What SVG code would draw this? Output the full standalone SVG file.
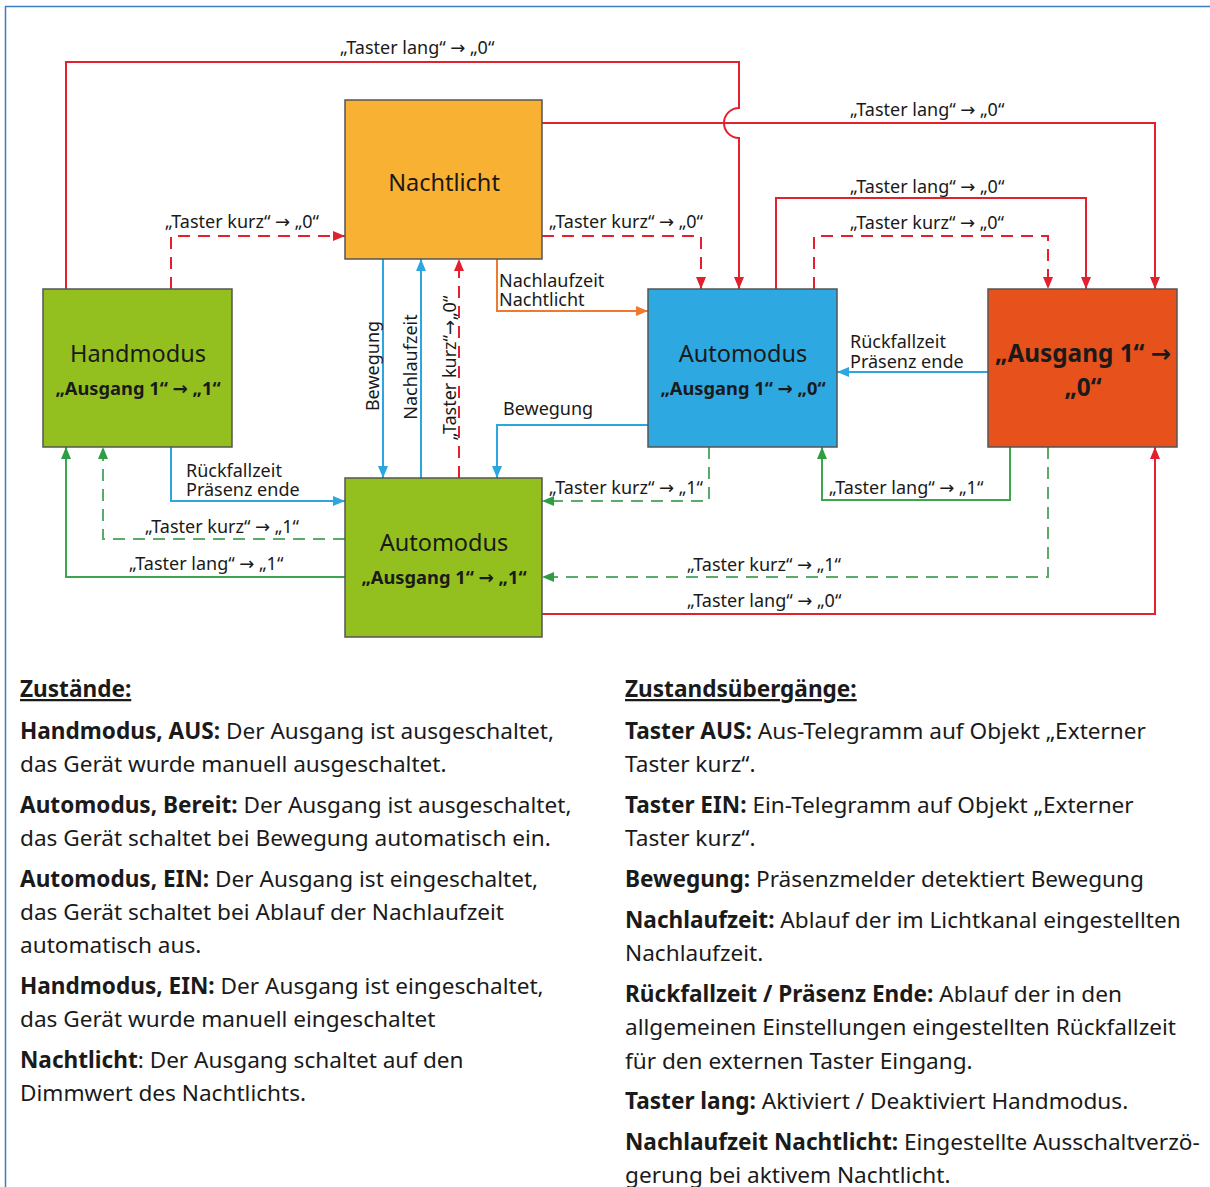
<svg xmlns="http://www.w3.org/2000/svg" width="1210" height="1187" viewBox="0 0 1210 1187">
<style>
.node{stroke:#555;stroke-width:1.5}
.t{font-family:"Noto Sans","DejaVu Sans",sans-serif;fill:#1a1a1a}
.lbl{font-size:18px}
.nt{font-size:23.5px;text-anchor:middle}
.nb{font-size:18.3px;font-weight:bold;text-anchor:middle}
.body{font-size:22.6px;white-space:pre}
.b{font-weight:bold}
.c{fill:none;stroke-width:2}
.red{stroke:#E3202E}
.blue{stroke:#2BA6DF}
.grn{stroke:#3DA54F}
.gd{stroke:#5BAA6A}
.org{stroke:#EE7A31}
.dash{stroke-dasharray:12 8}
</style>
<defs>
<marker id="aR" viewBox="0 0 12 10" refX="12" refY="5" markerWidth="12" markerHeight="10" markerUnits="userSpaceOnUse" orient="auto"><path d="M0,0 L12,5 L0,10 z" fill="#E3202E"/></marker>
<marker id="aB" viewBox="0 0 12 10" refX="12" refY="5" markerWidth="12" markerHeight="10" markerUnits="userSpaceOnUse" orient="auto"><path d="M0,0 L12,5 L0,10 z" fill="#2BA6DF"/></marker>
<marker id="aG" viewBox="0 0 12 10" refX="12" refY="5" markerWidth="12" markerHeight="10" markerUnits="userSpaceOnUse" orient="auto"><path d="M0,0 L12,5 L0,10 z" fill="#2E9E45"/></marker>
<marker id="aO" viewBox="0 0 12 10" refX="12" refY="5" markerWidth="12" markerHeight="10" markerUnits="userSpaceOnUse" orient="auto"><path d="M0,0 L12,5 L0,10 z" fill="#EE7A31"/></marker>
</defs>
<rect x="0" y="0" width="1210" height="1187" fill="#fff"/>
<rect x="5.5" y="6.5" width="1230" height="1220" fill="none" stroke="#3B7DBF" stroke-width="1.5"/>

<g id="connectors">
<path class="c red" d="M66,289 V62 H739 V108 A15,15 0 0 0 739,138 V289" marker-end="url(#aR)"/>
<path class="c red" d="M542,123 H1155 V289" marker-end="url(#aR)"/>
<path class="c red" d="M776,289 V198 H1086 V289" marker-end="url(#aR)"/>
<path class="c red dash" d="M814,289 V236 H1048 V289" marker-end="url(#aR)"/>
<path class="c red dash" d="M171,289 V236 H345" marker-end="url(#aR)"/>
<path class="c red dash" d="M542,236 H701 V289" marker-end="url(#aR)"/>
<path class="c blue" d="M383,259 V478" marker-end="url(#aB)"/>
<path class="c blue" d="M421,478 V259" marker-end="url(#aB)"/>
<path class="c red dash" d="M459,478 V259" marker-end="url(#aR)"/>
<path class="c org" d="M497,259 V311 H648" marker-end="url(#aO)"/>
<path class="c blue" d="M648,425 H497 V478" marker-end="url(#aB)"/>
<path class="c blue" d="M988,372 H837" marker-end="url(#aB)"/>
<path class="c blue" d="M171,447 V501 H345" marker-end="url(#aB)"/>
<path class="c gd dash" d="M709,447 V501 H542" marker-end="url(#aG)"/>
<path class="c grn" d="M1010,447 V500 H822 V447" marker-end="url(#aG)"/>
<path class="c gd dash" d="M1048,447 V577 H542" marker-end="url(#aG)"/>
<path class="c red" d="M542,614 H1155 V447" marker-end="url(#aR)"/>
<path class="c gd dash" d="M345,539 H103 V447" marker-end="url(#aG)"/>
<path class="c grn" d="M345,577 H66 V447" marker-end="url(#aG)"/>

<g class="t lbl">
<text x="340" y="54">„Taster lang“ → „0“</text>
<text x="850" y="116">„Taster lang“ → „0“</text>
<text x="850" y="193">„Taster lang“ → „0“</text>
<text x="850" y="229">„Taster kurz“ → „0“</text>
<text x="165" y="228">„Taster kurz“ → „0“</text>
<text x="549" y="228">„Taster kurz“ → „0“</text>
<text transform="translate(379,366) rotate(-90)" text-anchor="middle">Bewegung</text>
<text transform="translate(417,367) rotate(-90)" text-anchor="middle">Nachlaufzeit</text>
<text transform="translate(456,368) rotate(-90)" text-anchor="middle">„Taster kurz“→„0“</text>
<text x="499" y="287">Nachlaufzeit</text>
<text x="499" y="306">Nachtlicht</text>
<text x="503" y="415">Bewegung</text>
<text x="850" y="348">Rückfallzeit</text>
<text x="850" y="368">Präsenz ende</text>
<text x="186" y="477">Rückfallzeit</text>
<text x="186" y="496">Präsenz ende</text>
<text x="549" y="494">„Taster kurz“ → „1“</text>
<text x="829" y="494">„Taster lang“ → „1“</text>
<text x="687" y="571">„Taster kurz“ → „1“</text>
<text x="687" y="607">„Taster lang“ → „0“</text>
<text x="145" y="533">„Taster kurz“ → „1“</text>
<text x="129" y="570">„Taster lang“ → „1“</text>
</g>
</g>

<g id="nachtlicht">
<rect class="node" x="345" y="100" width="197" height="159" fill="#F8B133"/>
<text class="t nt" x="444" y="191">Nachtlicht</text>
</g>
<g id="handmodus">
<rect class="node" x="43" y="289" width="189" height="158" fill="#93C01F"/>
<text class="t nt" x="138" y="362">Handmodus</text>
<text class="t nb" x="138" y="395">„Ausgang 1“ → „1“</text>
</g>
<g id="automodus-aus">
<rect class="node" x="648" y="289" width="189" height="158" fill="#2EA8E0"/>
<text class="t nt" x="743" y="362">Automodus</text>
<text class="t nb" x="743" y="395">„Ausgang 1“ → „0“</text>
</g>
<g id="ausgang-0">
<rect class="node" x="988" y="289" width="189" height="158" fill="#E6511C"/>
<text class="t" x="1083" y="362" font-size="24.3" font-weight="bold" text-anchor="middle">„Ausgang 1“ →</text>
<text class="t" x="1083" y="396" font-size="24.3" font-weight="bold" text-anchor="middle">„0“</text>
</g>
<g id="automodus-ein">
<rect class="node" x="345" y="478" width="197" height="159" fill="#93C01F"/>
<text class="t nt" x="444" y="551">Automodus</text>
<text class="t nb" x="444" y="584">„Ausgang 1“ → „1“</text>
</g>

<g id="legend-left" class="t body">
<text x="20" y="697" class="b" text-decoration="underline">Zustände: </text>
<text x="20" y="739"><tspan class="b">Handmodus, AUS:</tspan> Der Ausgang ist ausgeschaltet,</text>
<text x="20" y="772">das Gerät wurde manuell ausgeschaltet.</text>
<text x="20" y="813"><tspan class="b">Automodus, Bereit:</tspan> Der Ausgang ist ausgeschaltet,</text>
<text x="20" y="846">das Gerät schaltet bei Bewegung automatisch ein.</text>
<text x="20" y="887"><tspan class="b">Automodus, EIN:</tspan> Der Ausgang ist eingeschaltet,</text>
<text x="20" y="920">das  Gerät schaltet bei Ablauf der Nachlaufzeit</text>
<text x="20" y="953">automatisch aus.</text>
<text x="20" y="994"><tspan class="b">Handmodus, EIN:</tspan> Der Ausgang ist eingeschaltet,</text>
<text x="20" y="1027">das Gerät wurde manuell eingeschaltet</text>
<text x="20" y="1068"><tspan class="b">Nachtlicht</tspan>: Der Ausgang schaltet auf den</text>
<text x="20" y="1101">Dimmwert des Nachtlichts.</text>
</g>
<g id="legend-right" class="t body">
<text x="625" y="697" class="b" text-decoration="underline">Zustandsübergänge:</text>
<text x="625" y="739"><tspan class="b">Taster AUS:</tspan> Aus-Telegramm auf Objekt „Externer</text>
<text x="625" y="772">Taster kurz“.</text>
<text x="625" y="813"><tspan class="b">Taster EIN:</tspan> Ein-Telegramm auf Objekt „Externer</text>
<text x="625" y="846">Taster kurz“.</text>
<text x="625" y="887"><tspan class="b">Bewegung:</tspan> Präsenzmelder detektiert Bewegung</text>
<text x="625" y="928"><tspan class="b">Nachlaufzeit:</tspan> Ablauf der im Lichtkanal eingestellten</text>
<text x="625" y="961">Nachlaufzeit.</text>
<text x="625" y="1002"><tspan class="b">Rückfallzeit / Präsenz Ende:</tspan> Ablauf der in den</text>
<text x="625" y="1035">allgemeinen Einstellungen eingestellten Rückfallzeit</text>
<text x="625" y="1069">für den externen Taster Eingang.</text>
<text x="625" y="1109"><tspan class="b">Taster lang:</tspan> Aktiviert / Deaktiviert Handmodus.</text>
<text x="625" y="1150"><tspan class="b">Nachlaufzeit Nachtlicht:</tspan> Eingestellte Ausschaltverzö-</text>
<text x="625" y="1183">gerung bei aktivem Nachtlicht.</text>
</g>
</svg>
